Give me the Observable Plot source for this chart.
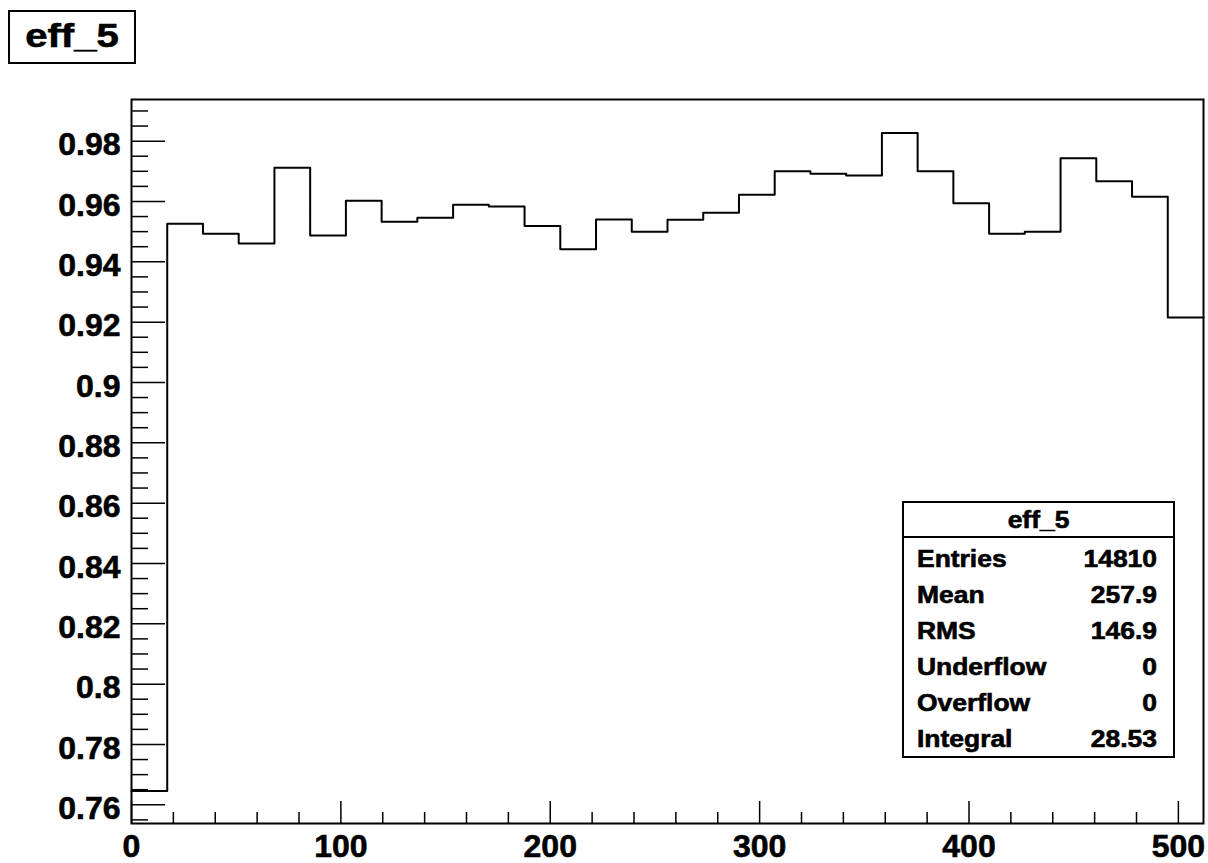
<!DOCTYPE html>
<html>
<head>
<meta charset="utf-8">
<script src="https://cdn.jsdelivr.net/npm/d3@7"></script>
<script src="https://cdn.jsdelivr.net/npm/@observablehq/plot@0.6"></script>
<style>
  html, body { margin: 0; padding: 0; background: #fff; }
  #chart svg { display: block; }
  #chart svg text { stroke: black; stroke-width: 0.6px; paint-order: stroke; }
</style>
</head>
<body>
<div id="chart"></div>
<script>
const histName = "eff_5";
const xMin = 0;
const xMax = 512;
const nBins = 30;
const binValues = [
  0.7646, 0.9526, 0.9493, 0.9461, 0.9712, 0.9487, 0.9602, 0.9533, 0.9546, 0.9589,
  0.9583, 0.9519, 0.9442, 0.9540, 0.9500, 0.9539, 0.9563, 0.9622, 0.9700, 0.9692,
  0.9686, 0.9827, 0.9700, 0.9594, 0.9493, 0.9500, 0.9743, 0.9667, 0.9616, 0.9215
];
const yMajorTicks = [0.76, 0.78, 0.8, 0.82, 0.84, 0.86, 0.88, 0.9, 0.92, 0.94, 0.96, 0.98];
const xMajorTicks = [0, 100, 200, 300, 400, 500];
const statsLabels = ["Entries", "Mean", "RMS", "Underflow", "Overflow", "Integral"];
const statsValues = ["14810", "257.9", "146.9", "0", "0", "28.53"];

// ---- Derived tables ----
const binWidth = (xMax - xMin) / nBins;
const steps = binValues.map((v, i) => ({x: xMin + i * binWidth, y: v}));
steps.push({x: xMax, y: binValues[binValues.length - 1]});
const yDomain = [0.7538, 0.9938];
const yMinorTicks = d3.range(151, 199).map(i => i / 200).filter(v => !yMajorTicks.some(t => Math.abs(t - v) < 1e-9));
const xMinorTicks = d3.range(20, 512, 20).filter(v => v % 100 !== 0);

// ---- Layout ----
const W = 1208, H = 863;
const mT = 99, mR = 5, mB = 40, mL = 131;
const innerW = W - mL - mR, innerH = H - mT - mB;
const font = "'Liberation Sans', Arial, Helvetica, sans-serif";

const chart = Plot.plot({
  width: W,
  height: H,
  marginTop: mT, marginRight: mR, marginBottom: mB, marginLeft: mL,
  x: {domain: [xMin, xMax]},
  y: {domain: yDomain},
  style: {fontFamily: font, background: "white", color: "black"},
  marks: [
    Plot.ruleY(yMinorTicks, {y: d => d, stroke: "black", strokeWidth: 1.5, insetRight: innerW - 17}),
    Plot.ruleY(yMajorTicks, {y: d => d, stroke: "black", strokeWidth: 1.5, insetRight: innerW - 34}),
    Plot.ruleX(xMinorTicks, {x: d => d, stroke: "black", strokeWidth: 1.5, insetTop: innerH - 11}),
    Plot.ruleX(xMajorTicks, {x: d => d, stroke: "black", strokeWidth: 1.5, insetTop: innerH - 22}),
    Plot.line(steps, {x: "x", y: "y", curve: "step-after", stroke: "black", strokeWidth: 2}),
    Plot.frame({stroke: "black", strokeWidth: 2}),
    Plot.axisY({ticks: yMajorTicks, tickSize: 0, tickPadding: 11, fontSize: 32, fontWeight: "bold",
                label: null, tickFormat: d => String(d), dy: 4}),
    Plot.axisX({ticks: xMajorTicks, tickSize: 0, tickPadding: 11, fontSize: 32, fontWeight: "bold",
                label: null, tickFormat: d => String(d)})
  ]
});
document.getElementById("chart").appendChild(chart);

// ---- Title box and statistics box (ROOT style) ----
const svg = d3.select(chart);
const title = svg.append("g");
title.append("rect").attr("x", 9).attr("y", 11).attr("width", 126).attr("height", 52)
  .attr("fill", "white").attr("stroke", "black").attr("stroke-width", 2);
title.append("text").attr("transform", "translate(72,47) scale(1.18,1)")
  .attr("text-anchor", "middle").attr("font-family", font).attr("font-weight", "bold")
  .attr("font-size", 34).attr("fill", "black").text(histName);

const stats = svg.append("g");
const bx = 903, by = 502, bw = 271, bh = 255;
stats.append("rect").attr("x", bx).attr("y", by).attr("width", bw).attr("height", bh)
  .attr("fill", "white").attr("stroke", "black").attr("stroke-width", 2);
stats.append("line").attr("x1", bx).attr("x2", bx + bw).attr("y1", 537).attr("y2", 537)
  .attr("stroke", "black").attr("stroke-width", 2);
stats.append("text").attr("transform", `translate(${bx + bw / 2},528) scale(1.15,1)`)
  .attr("text-anchor", "middle").attr("font-family", font).attr("font-weight", "bold")
  .attr("font-size", 23).attr("fill", "black").text(histName);
statsLabels.forEach((lab, i) => {
  const yb = 567 + i * 36;
  stats.append("text").attr("transform", `translate(917,${yb}) scale(1.15,1)`)
    .attr("text-anchor", "start").attr("font-family", font).attr("font-weight", "bold")
    .attr("font-size", 23).attr("fill", "black").text(lab);
  stats.append("text").attr("transform", `translate(1157,${yb}) scale(1.15,1)`)
    .attr("text-anchor", "end").attr("font-family", font).attr("font-weight", "bold")
    .attr("font-size", 23).attr("fill", "black").text(statsValues[i]);
});
</script>
</body>
</html>
